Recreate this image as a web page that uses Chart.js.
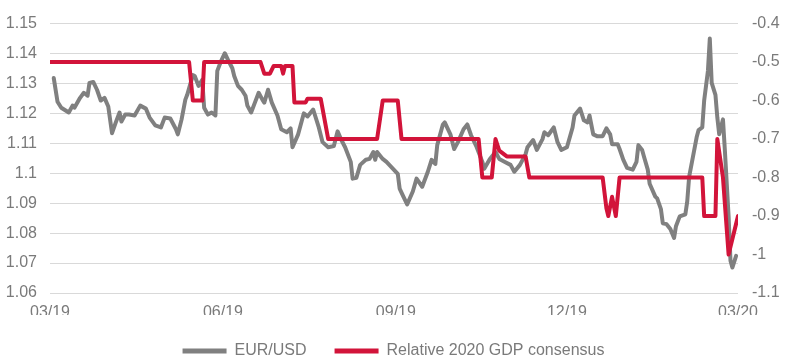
<!DOCTYPE html>
<html>
<head>
<meta charset="utf-8">
<script src="https://cdn.jsdelivr.net/npm/chart.js@4.4.1/dist/chart.umd.min.js"></script>
<style>
html,body{margin:0;padding:0;background:#fff;}
#wrap{width:787px;height:363px;position:relative;}
</style>
</head>
<body>
<div id="wrap"><canvas id="c"></canvas></div>
<script>
// Day offsets from the 03/19 start (linear time axis)
const tickDays = [0, 92, 184, 275, 366];
const tickLabels = ["03/19", "06/19", "09/19", "12/19", "03/20"];

// EUR/USD (left axis)
const eurDays = [2,4,6,10,12,13,16,18,20,21,23,25,27,29,31,33,35,37,38,40,42,45,48,51,53,56,59,61,64,67,68,70,72,73,76,77,79,81,82,84,86,88,89,91,93,95,97,98,100,102,104,105,107,109,111,113,114,116,118,121,123,126,128,129,132,135,137,140,143,145,148,151,153,155,157,160,161,163,165,168,170,172,173,174,177,179,182,185,186,188,190,193,195,198,201,203,205,206,209,210,213,215,217,220,222,224,227,230,231,234,237,239,242,245,247,250,253,254,257,259,262,263,265,268,270,272,275,278,279,282,284,286,287,289,291,294,296,298,299,302,303,305,307,310,312,313,315,316,318,319,322,323,325,326,328,330,332,333,335,338,339,340,342,344,345,347,348,350,351,352,354,355,356,358,359,361,362,363,365];
const eurUsd = [1.1318,1.1239,1.1219,1.1203,1.1226,1.1219,1.1252,1.1269,1.1259,1.1302,1.1305,1.1279,1.1243,1.1252,1.1223,1.1134,1.117,1.1203,1.1173,1.1196,1.1196,1.1193,1.1226,1.1216,1.1186,1.116,1.1153,1.1186,1.1183,1.1147,1.113,1.118,1.1246,1.1262,1.1328,1.1325,1.1292,1.1312,1.1219,1.1196,1.1203,1.1193,1.1342,1.1375,1.1401,1.1375,1.1351,1.1325,1.1292,1.1279,1.1259,1.1226,1.1203,1.1236,1.1269,1.1246,1.1236,1.1279,1.1236,1.1193,1.1147,1.1137,1.115,1.1087,1.113,1.12,1.119,1.1213,1.1153,1.1104,1.1087,1.1091,1.114,1.1111,1.1087,1.1038,1.0982,1.0985,1.1028,1.1045,1.1048,1.1071,1.1045,1.1071,1.1048,1.1038,1.1018,1.0998,1.0949,1.0922,1.0896,1.0939,1.0982,1.0955,1.1005,1.1045,1.1031,1.1094,1.1163,1.117,1.113,1.1081,1.1104,1.1147,1.1163,1.1127,1.1087,1.1038,1.1015,1.1048,1.1071,1.1048,1.1038,1.1028,1.1005,1.1028,1.1064,1.1087,1.1111,1.1078,1.1114,1.1137,1.1127,1.1153,1.1104,1.1078,1.1087,1.1153,1.1193,1.1216,1.1177,1.117,1.1193,1.113,1.1124,1.1124,1.115,1.113,1.1097,1.1097,1.1081,1.1045,1.1018,1.1012,1.1038,1.1094,1.1078,1.1055,1.1012,1.0965,1.0922,1.0916,1.088,1.0833,1.083,1.0814,1.0784,1.0823,1.0856,1.0863,1.0906,1.0988,1.1054,1.112,1.1144,1.1153,1.1243,1.1342,1.145,1.1302,1.1262,1.1186,1.113,1.118,1.1078,1.0856,1.0708,1.0685,1.0724];

// Relative 2020 GDP consensus (right axis)
const gdpDays = [0,74,76,81,82,112,114,117,119,123,124,125,129,130,136,137,144,148,174,177,185,187,228,230,235,237,239,243,253,255,294,296,297,299,301,303,347,348,354,355,358,361,362,366];
const gdpConsensus = [-0.5,-0.5,-0.6,-0.6,-0.5,-0.5,-0.53,-0.53,-0.51,-0.51,-0.53,-0.51,-0.51,-0.605,-0.605,-0.595,-0.595,-0.7,-0.7,-0.6,-0.6,-0.7,-0.7,-0.8,-0.8,-0.7,-0.73,-0.745,-0.745,-0.8,-0.8,-0.88,-0.9,-0.85,-0.9,-0.8,-0.8,-0.9,-0.9,-0.7,-0.8,-1.0,-0.98,-0.9];

const GRAY = '#808080';
const RED = '#d2143a';
const TXT = '#7a7a7a';
const FONT = {family: '"Liberation Sans", Arial, sans-serif', size: 16};

const eurPoints = eurDays.map((d, i) => ({x: d, y: eurUsd[i]}));
const gdpPoints = gdpDays.map((d, i) => ({x: d, y: gdpConsensus[i]}));

new Chart(document.getElementById('c'), {
  type: 'line',
  data: {
    datasets: [
      {label: 'EUR/USD', data: eurPoints, yAxisID: 'y', borderColor: GRAY, backgroundColor: GRAY,
       borderWidth: 4, pointRadius: 0, tension: 0, order: 2, borderJoinStyle: 'round', borderCapStyle: 'round'},
      {label: 'Relative 2020 GDP consensus', data: gdpPoints, yAxisID: 'y1', borderColor: RED, backgroundColor: RED,
       borderWidth: 4, pointRadius: 0, tension: 0, order: 1, borderJoinStyle: 'round', borderCapStyle: 'round'}
    ]
  },
  options: {
    responsive: true,
    maintainAspectRatio: false,
    animation: false,
    devicePixelRatio: 1,
    layout: {padding: {top: 20, left: 0, right: 0, bottom: 0}},
    plugins: {
      tooltip: {enabled: false},
      legend: {
        position: 'bottom',
        maxHeight: 48,
        labels: {
          boxWidth: 44, boxHeight: 5, padding: 28, color: TXT, font: FONT,
          generateLabels: (chart) => chart.data.datasets.map((ds, i) => ({
            text: ds.label, fillStyle: ds.borderColor, strokeStyle: ds.borderColor,
            lineWidth: 0, hidden: false, datasetIndex: i, fontColor: TXT
          }))
        }
      }
    },
    scales: {
      x: {
        type: 'linear', min: 0, max: 366, position: 'bottom',
        grid: {display: false, drawTicks: false}, border: {display: false},
        afterBuildTicks: (s) => { s.ticks = tickDays.map(v => ({value: v})); },
        afterFit: (s) => { s.height = 22; },
        ticks: {
          autoSkip: false, maxRotation: 0, padding: 10, color: TXT, font: FONT,
          callback: (v) => { const i = tickDays.indexOf(v); return i >= 0 ? tickLabels[i] : ''; }
        }
      },
      y: {
        position: 'left', min: 1.06, max: 1.15,
        grid: {color: '#d9d9d9', lineWidth: 1, drawTicks: false}, border: {display: false},
        afterFit: (s) => { s.width = 50; },
        ticks: {stepSize: 0.01, padding: 13, color: TXT, font: FONT,
          callback: (v) => String(parseFloat(Number(v).toFixed(2)))}
      },
      y1: {
        position: 'right', min: -1.1, max: -0.4,
        grid: {display: false, drawTicks: false}, border: {display: false},
        afterFit: (s) => { s.width = 49; },
        ticks: {stepSize: 0.1, padding: 14, color: TXT, font: FONT,
          callback: (v) => String(parseFloat(Number(v).toFixed(1)))}
      }
    }
  }
});
</script>
</body>
</html>
